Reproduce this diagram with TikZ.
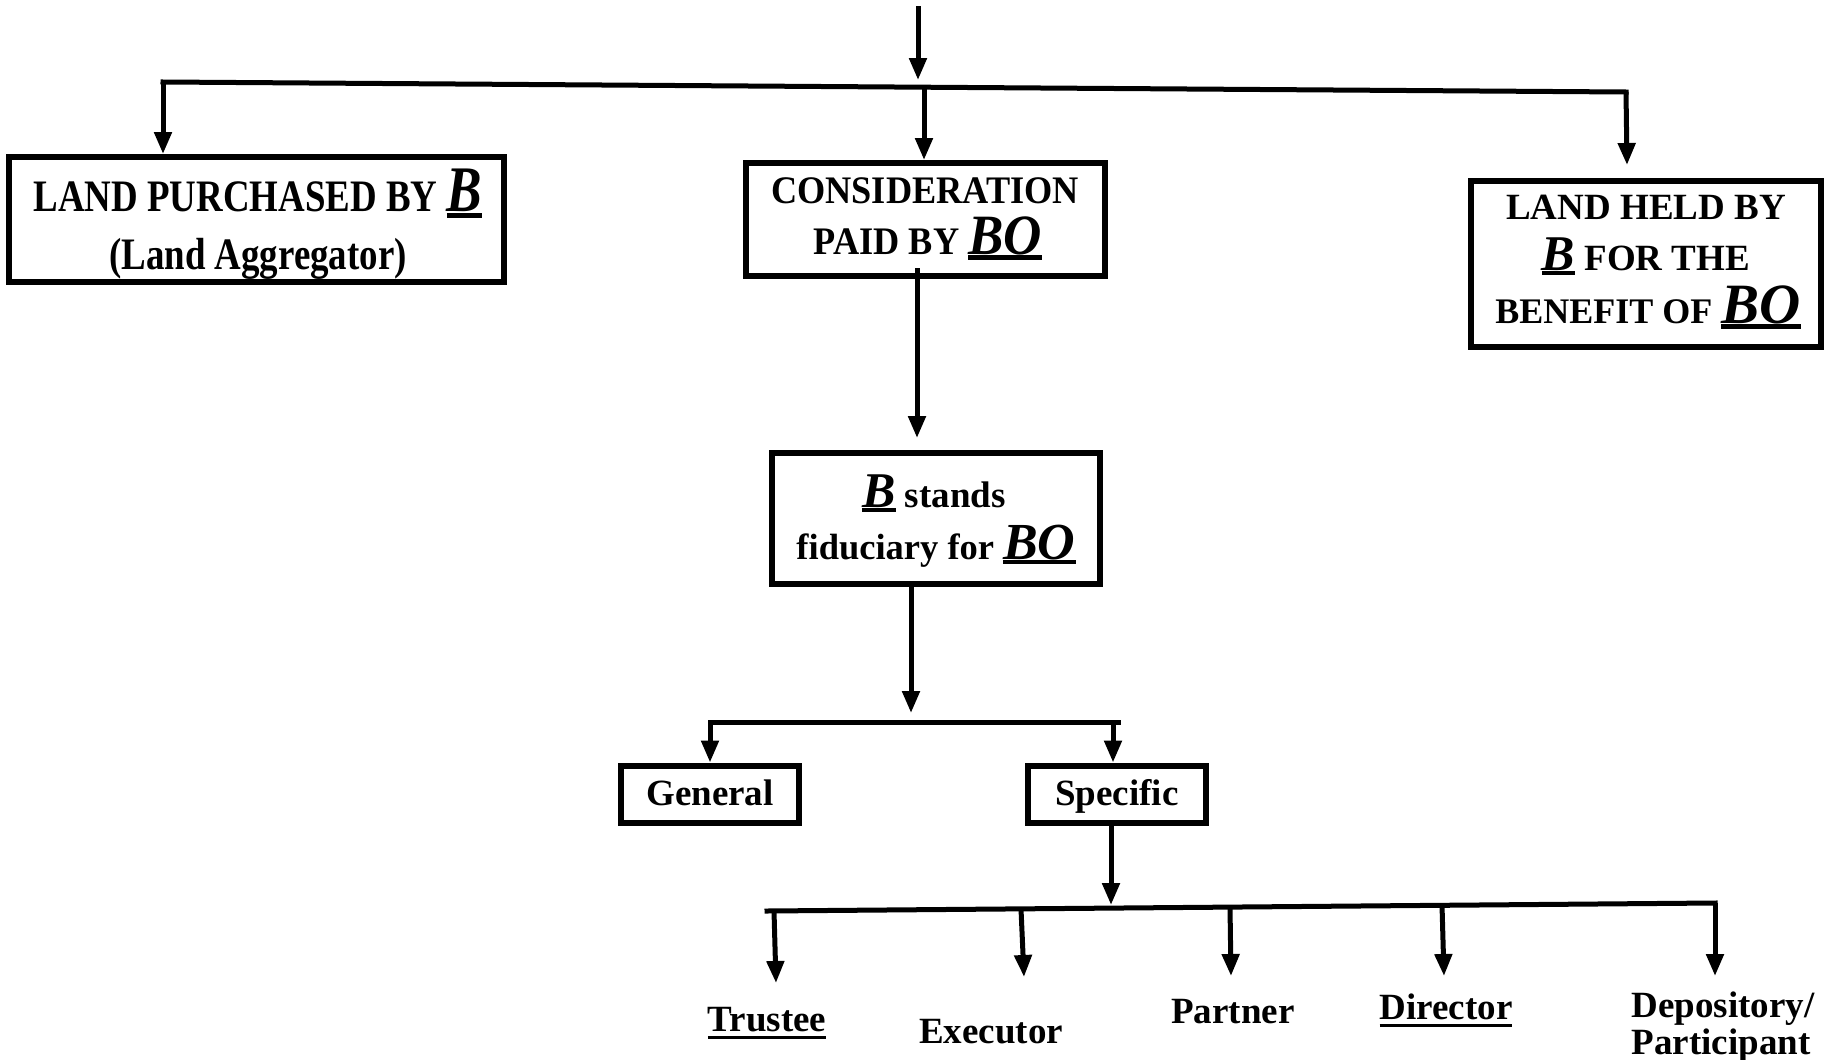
\documentclass[tikz,border=0pt]{standalone}
\usepackage{fontspec}
\setmainfont{Liberation Serif}
\newfontfamily\fA{Liberation Serif}[FakeStretch=0.82]
\newfontfamily\fB{Liberation Serif}[FakeStretch=0.93]
\usetikzlibrary{arrows.meta}
\newcommand\ulbar[1]{\leavevmode\setbox0\hbox{#1}\rlap{\rule[-0.1em]{\wd0}{0.075em}}\box0}
\newcommand\bigit[2]{{\fontsize{#1}{#1}\selectfont\itshape\ulbar{#2}}}
\newcommand\ulword[1]{\leavevmode\setbox0\hbox{#1}\rlap{\rule[-0.22em]{\wd0}{0.09em}}\box0}
\begin{document}
\begin{tikzpicture}[x=1pt,y=-1pt,
  box/.style={draw, line width=6pt, inner sep=0pt},
  conn/.style={line width=5pt},
  arr/.style={line width=5pt, -{Triangle[length=22pt,width=17pt]}},
  lbl/.style={anchor=base, inner sep=0pt}]
\useasboundingbox (0,0) rectangle (1831,1060);
\fill[white] (0,0) rectangle (1831,1060);

% boxes
\node[box, minimum width=495pt, minimum height=125pt] (b1) at (256.5,219.5) {};
\node[box, minimum width=359pt, minimum height=113pt] (b2) at (925.5,219.5) {};
\node[box, minimum width=350pt, minimum height=166pt] (b3) at (1646,264) {};
\node[box, minimum width=328pt, minimum height=131pt] (b4) at (936,518.5) {};
\node[box, minimum width=178pt, minimum height=57pt] (gen) at (710,794) {};
\node[box, minimum width=178pt, minimum height=57pt] (spec) at (1117,794) {};

% box texts
\node[lbl, font=\fA\bfseries\fontsize{45}{50}\selectfont] (t1a) at (258,211) {LAND PURCHASED BY \bigit{65}{B}};
\node[lbl, font=\fA\bfseries\fontsize{45}{50}\selectfont] (t1b) at (258,269) {(Land Aggregator)};
\node[lbl, font=\fB\bfseries\fontsize{39}{44}\selectfont] (t2a) at (925,203) {CONSIDERATION};
\node[lbl, font=\fB\bfseries\fontsize{39}{44}\selectfont] (t2b) at (928,254) {PAID BY \bigit{57}{BO}};
\node[lbl, font=\bfseries\fontsize{37}{42}\selectfont] (t3a) at (1646,219) {LAND HELD BY};
\node[lbl, font=\bfseries\fontsize{37}{42}\selectfont] (t3b) at (1646,270) {\bigit{50}{B} FOR THE};
\node[lbl, font=\bfseries\fontsize{36}{40}\selectfont] (t3c) at (1648,323) {BENEFIT OF \bigit{57}{BO}};
\node[lbl, font=\bfseries\fontsize{37}{42}\selectfont] (t4a) at (934,507) {\bigit{50}{B} stands};
\node[lbl, font=\bfseries\fontsize{36.5}{42}\selectfont] (t4b) at (936,559) {fiduciary for \bigit{52}{BO}};
\node[lbl, font=\bfseries\fontsize{37}{42}\selectfont] (tgen) at (710,805) {General};
\node[lbl, font=\bfseries\fontsize{37}{42}\selectfont] (tspec) at (1117,805) {Specific};

% bottom labels
\node[lbl, font=\bfseries\fontsize{37}{42}\selectfont] (trustee) at (767,1031) {\ulword{Trustee}};
\node[lbl, font=\bfseries\fontsize{37}{42}\selectfont] (executor) at (991,1043) {Executor};
\node[lbl, font=\bfseries\fontsize{37}{42}\selectfont] (partner) at (1233,1023) {Partner};
\node[lbl, font=\bfseries\fontsize{37}{42}\selectfont] (director) at (1446,1019) {\ulword{Director}};
\node[lbl, font=\bfseries\fontsize{37}{42}\selectfont] (depoA) at (1723,1017) {Depository/};
\node[lbl, font=\bfseries\fontsize{37}{42}\selectfont] (depoB) at (1721,1054) {Participant};

% top connectors
\coordinate (top) at (918,6);
\coordinate (topend) at (918,80);
\coordinate (hl) at (163,82);
\coordinate (hr) at (1626,92);
\coordinate (m1) at (924,87);
\coordinate (r1) at (1627,165);
\draw[conn, line cap=rect] (hl) -- (hr);
\draw[arr] (top) -- (topend);
\draw[arr] (hl) -- (hl |- b1.north);
\draw[arr] (m1) -- (m1 |- b2.north);
\draw[arr] (hr) -- (r1);

% middle connectors
\coordinate (s24) at (917,268);
\coordinate (e24) at (917,438);
\draw[arr] (s24) -- (e24);
\coordinate (e4) at (911,713);
\draw[arr] (b4.south -| e4) -- (e4);
\coordinate (sl) at (710,722);
\coordinate (sr) at (1118,722);
\coordinate (sr2) at (1113,722);
\draw[conn, line cap=rect] (sl) -- (sr);
\draw[arr] (sl) -- (sl |- gen.north);
\draw[arr] (sr2) -- (sr2 |- spec.north);

% bottom connectors
\coordinate (e5) at (1111,905);
\draw[arr] (spec.south -| e5) -- (e5);
\coordinate (bl) at (767,911);
\coordinate (br) at (1715,903);
\draw[conn, line cap=rect] (bl) -- (br);
\coordinate (a1s) at (774,911);  \coordinate (a1e) at (776,983);
\coordinate (a2s) at (1021,909); \coordinate (a2e) at (1024,977);
\coordinate (a3s) at (1230,907); \coordinate (a3e) at (1231,976);
\coordinate (a4s) at (1442,905); \coordinate (a4e) at (1444,976);
\coordinate (a5e) at (1715,976);
\draw[arr] (a1s) -- (a1e);
\draw[arr] (a2s) -- (a2e);
\draw[arr] (a3s) -- (a3e);
\draw[arr] (a4s) -- (a4e);
\draw[arr] (br) -- (a5e);
\end{tikzpicture}
\end{document}
